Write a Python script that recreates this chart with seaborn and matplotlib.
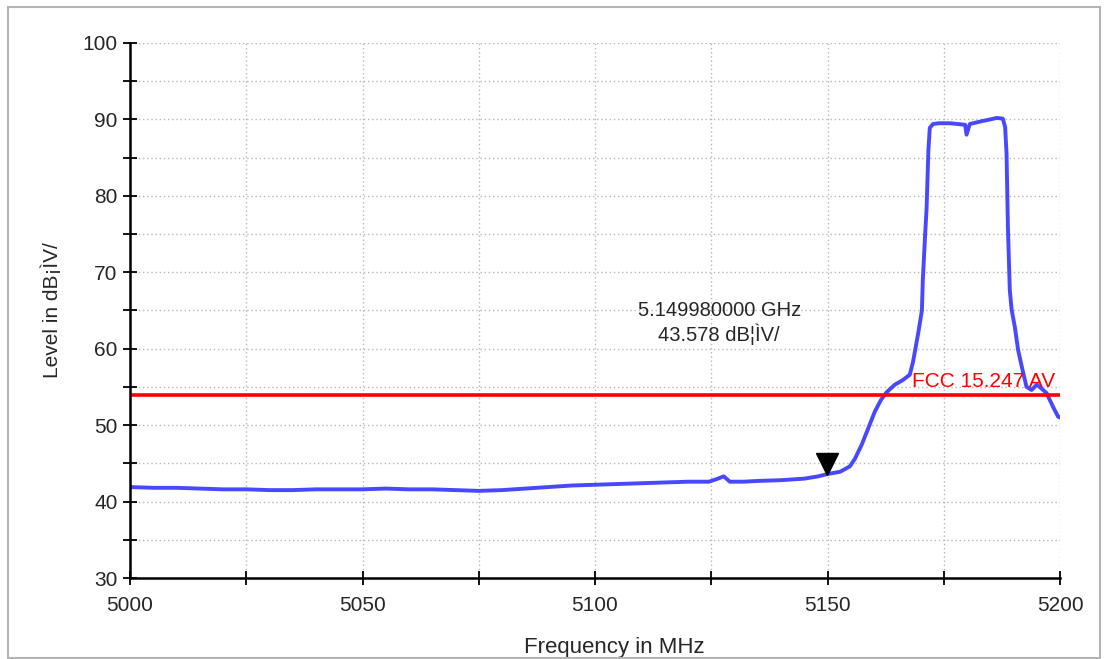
import numpy as np
import pandas as pd
import matplotlib
matplotlib.use('Agg')
import matplotlib.pyplot as plt
from matplotlib.patches import Rectangle
import seaborn as sns

# trace (MHz, dBuV/m)
freq_mhz = [5000, 5005, 5010, 5015, 5020, 5025, 5030, 5035, 5040, 5045,
            5050, 5055, 5060, 5065, 5070, 5075, 5080, 5085, 5090, 5095,
            5100, 5105, 5110, 5115, 5120, 5124.5, 5126, 5127.7, 5129, 5132,
            5135, 5140, 5145, 5148, 5150, 5152.7, 5154.8, 5155.9, 5157.4, 5158.7,
            5160.2, 5161.5, 5162.7, 5164.5, 5166.2, 5167.7, 5168.4, 5169.5, 5170.3, 5170.5,
            5171.0, 5171.3, 5171.7, 5172.0, 5172.7, 5174, 5176.3, 5178, 5179.6, 5179.9,
            5180.6, 5182, 5183.4, 5185, 5186.4, 5187.7, 5188.2, 5188.5, 5188.8, 5189.2,
            5189.6, 5190.3, 5191.0, 5191.8, 5192.8, 5193.9, 5195.0, 5196, 5197.1, 5198.5,
            5199.6, 5200]
level_dbuv = [41.9, 41.8, 41.8, 41.7, 41.6, 41.6, 41.5, 41.5, 41.6, 41.6,
              41.6, 41.7, 41.6, 41.6, 41.5, 41.4, 41.5, 41.7, 41.9, 42.1,
              42.2, 42.3, 42.4, 42.5, 42.6, 42.6, 42.9, 43.3, 42.6, 42.6,
              42.7, 42.8, 43.0, 43.3, 43.6, 43.9, 44.6, 45.6, 47.5, 49.5,
              51.8, 53.3, 54.3, 55.3, 55.9, 56.6, 58.3, 62.0, 65.0, 69.0,
              75.0, 78.2, 86.0, 88.9, 89.4, 89.5, 89.5, 89.4, 89.3, 88.0,
              89.4, 89.6, 89.8, 90.0, 90.2, 90.1, 89.0, 85.6, 75.9, 67.7,
              65.1, 62.8, 59.8, 57.6, 55.0, 54.6, 55.3, 54.8, 54.2, 52.4,
              51.1, 51.0]

limit_freq = [5000, 5200]
limit_level = [54, 54]
limit_name = "FCC 15.247 AV"

marker_freq = 5149.98
marker_level = 43.578
marker_text = "5.149980000 GHz\n43.578 dB¦ÌV/"

df = pd.DataFrame({'Frequency': freq_mhz, 'Level': level_dbuv})
df_lim = pd.DataFrame({'Frequency': limit_freq, 'Level': limit_level})

sns.set_style('white')
plt.rcParams['font.family'] = ['Liberation Sans', 'DejaVu Sans']

fig = plt.figure(figsize=(11.08, 6.59), dpi=100)
ax = fig.add_axes([130 / 1108, 81 / 659, 930 / 1108, 535 / 659])

sns.lineplot(data=df, x='Frequency', y='Level', ax=ax, color='#4848ff', lw=2.8)
sns.lineplot(data=df_lim, x='Frequency', y='Level', ax=ax, color='#ff0000', lw=2.6)

# marker triangle sitting on the trace
ax.plot([marker_freq], [marker_level + 1.3], marker='v', color='black', markersize=16, ls='none')
ax.text(5126.7, 63.4, marker_text, ha='center', va='center', fontsize=14.5,
        multialignment='center', linespacing=1.2)
ax.text(5168.2, 54.5, limit_name, color='#ff0000', ha='left', va='bottom', fontsize=15)

ax.set_xlim(5000, 5200)
ax.set_ylim(30, 100)
ax.set_xticks(np.arange(5000, 5201, 50))
ax.set_xticks(np.arange(5000, 5201, 25), minor=True)
ax.set_yticks(np.arange(30, 101, 10))
ax.set_yticks(np.arange(30, 101, 5), minor=True)
ax.grid(True, which='both', color='#b8b8b8', ls=(0, (1, 2)), lw=1)
ax.tick_params(which='both', direction='inout', length=10, width=1.3, color='black',
               bottom=True, left=True)
ax.tick_params(axis='both', which='major', labelsize=15)
ax.tick_params(axis='x', pad=8)
ax.tick_params(axis='y', pad=4)

for side in ['top', 'right']:
    ax.spines[side].set_visible(False)
for side in ['left', 'bottom']:
    ax.spines[side].set_color('black')
    ax.spines[side].set_linewidth(1.8)

ax.set_xlabel("Frequency in MHz", fontsize=16)
ax.set_ylabel("Level in dB¡ÌV/", fontsize=15)
ax.xaxis.set_label_coords((614 - 130) / 930, -0.11)
ax.yaxis.set_label_coords(-0.073, 0.5)

# outer window frame
fig.patches.append(Rectangle((8 / 1108, 1 / 659), 1092 / 1108, 651 / 659,
                             transform=fig.transFigure, fill=False,
                             edgecolor='#b4b4b4', lw=1.5))

fig.savefig('out.png', dpi=100)
